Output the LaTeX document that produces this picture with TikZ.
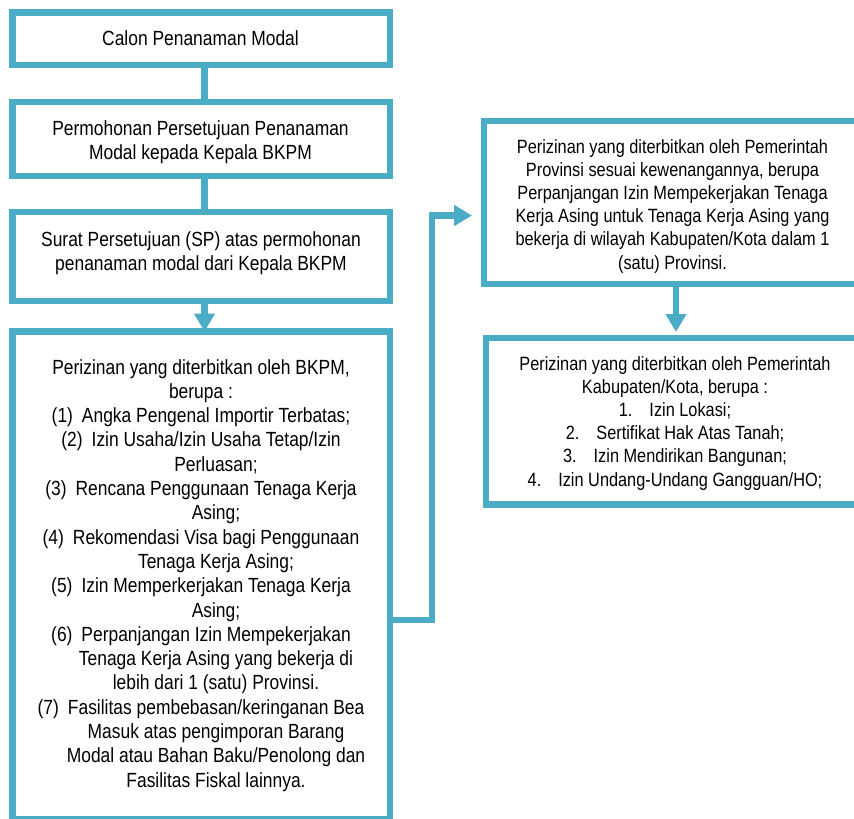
\documentclass[tikz,border=0pt]{standalone}
\usepackage{fontspec}
\setmainfont{Liberation Sans}
\newfontfamily\figfont[FakeStretch=0.85]{Liberation Sans}
\usetikzlibrary{arrows.meta}
\definecolor{boxblue}{HTML}{4BACC6}
\definecolor{txt}{HTML}{000000}
\newcommand\cind{\hspace*{30pt}}
\begin{document}
\begin{tikzpicture}[x=1pt,y=-1pt,
  frame/.style={draw=boxblue, line width=6.5pt, rectangle, inner sep=0pt, outer sep=0pt, anchor=north west, fill=white},
  conn/.style={draw=boxblue, line width=6.5pt, line join=miter},
  tipend/.style={-{Triangle[width=20pt,length=18pt]}},
  ltext/.style={anchor=base, inner sep=0pt, font=\figfont\fontsize{20.5}{24.3}\selectfont, text=txt},
  rtext/.style={anchor=base, inner sep=0pt, font=\figfont\fontsize{19.2}{23.2}\selectfont, text=txt}]
\useasboundingbox (0,0) rectangle (854,819);
% frames
\node[frame, minimum width=377.5pt, minimum height=52.5pt] (b1) at (12.25,12.25) {};
\node[frame, minimum width=377.5pt, minimum height=74pt] (b2) at (12.25,102) {};
\node[frame, minimum width=377.5pt, minimum height=89pt] (b3) at (12.25,212) {};
\node[frame, minimum width=377.5pt, minimum height=488pt] (b4) at (12.25,331.5) {};
\node[frame, minimum width=400pt, minimum height=163pt] (b5) at (484,121) {};
\node[frame, minimum width=400pt, minimum height=166.5pt] (b6) at (486,338) {};
% texts
\node[ltext] (t1) at (200.5,45) {\begin{tabular}[t]{@{}c@{}}Calon Penanaman Modal\end{tabular}};
\node[ltext] (t2) at (200.5,135) {\begin{tabular}[t]{@{}c@{}}Permohonan Persetujuan Penanaman\\ Modal kepada Kepala BKPM\end{tabular}};
\node[ltext] (t3) at (201,246) {\begin{tabular}[t]{@{}c@{}}Surat Persetujuan (SP) atas permohonan\\ penanaman modal dari Kepala BKPM\end{tabular}};
\node[ltext] (t4) at (201,374) {\begin{tabular}[t]{@{}c@{}}
Perizinan yang diterbitkan oleh BKPM,\\
berupa :\\
(1)\hspace{9pt}Angka Pengenal Importir Terbatas;\\
(2)\hspace{9pt}Izin Usaha/Izin Usaha Tetap/Izin\\
\cind Perluasan;\\
(3)\hspace{9pt}Rencana Penggunaan Tenaga Kerja\\
\cind Asing;\\
(4)\hspace{9pt}Rekomendasi Visa bagi Penggunaan\\
\cind Tenaga Kerja Asing;\\
(5)\hspace{9pt}Izin Memperkerjakan Tenaga Kerja\\
\cind Asing;\\
(6)\hspace{9pt}Perpanjangan Izin Mempekerjakan\\
\cind Tenaga Kerja Asing yang bekerja di\\
\cind lebih dari 1 (satu) Provinsi.\\
(7)\hspace{9pt}Fasilitas pembebasan/keringanan Bea\\
\cind Masuk atas pengimporan Barang\\
\cind Modal atau Bahan Baku/Penolong dan\\
\cind Fasilitas Fiskal lainnya.
\end{tabular}};
\node[rtext] (t5) at (672.5,153) {\begin{tabular}[t]{@{}c@{}}
Perizinan yang diterbitkan oleh Pemerintah\\
Provinsi sesuai kewenangannya, berupa\\
Perpanjangan Izin Mempekerjakan Tenaga\\
Kerja Asing untuk Tenaga Kerja Asing yang\\
bekerja di wilayah Kabupaten/Kota dalam 1\\
(satu) Provinsi.
\end{tabular}};
\node[rtext] (t6) at (675,370) {\begin{tabular}[t]{@{}c@{}}
Perizinan yang diterbitkan oleh Pemerintah\\
Kabupaten/Kota, berupa :\\
1.\hspace{17pt}Izin Lokasi;\\
2.\hspace{17pt}Sertifikat Hak Atas Tanah;\\
3.\hspace{17pt}Izin Mendirikan Bangunan;\\
4.\hspace{17pt}Izin Undang-Undang Gangguan/HO;
\end{tabular}};
% connectors
\coordinate (cx) at (204.5,0);
\coordinate (rx) at (676,0);
\coordinate (e1) at (432,620);
\coordinate (e2) at (432,215.5);
\draw[conn] (b1.south -| cx) -- (b2.north -| cx);
\draw[conn] (b2.south -| cx) -- (b3.north -| cx);
\draw[conn,tipend] (b3.south -| cx) -- (b4.north -| cx);
\draw[conn,tipend,shorten >=12pt] (b4.east |- e1) -- (e1) -- (e2) -- (b5.west |- e2);
\draw[conn,tipend,shorten >=6pt] (b5.south -| rx) -- (b6.north -| rx);
\end{tikzpicture}
\end{document}
